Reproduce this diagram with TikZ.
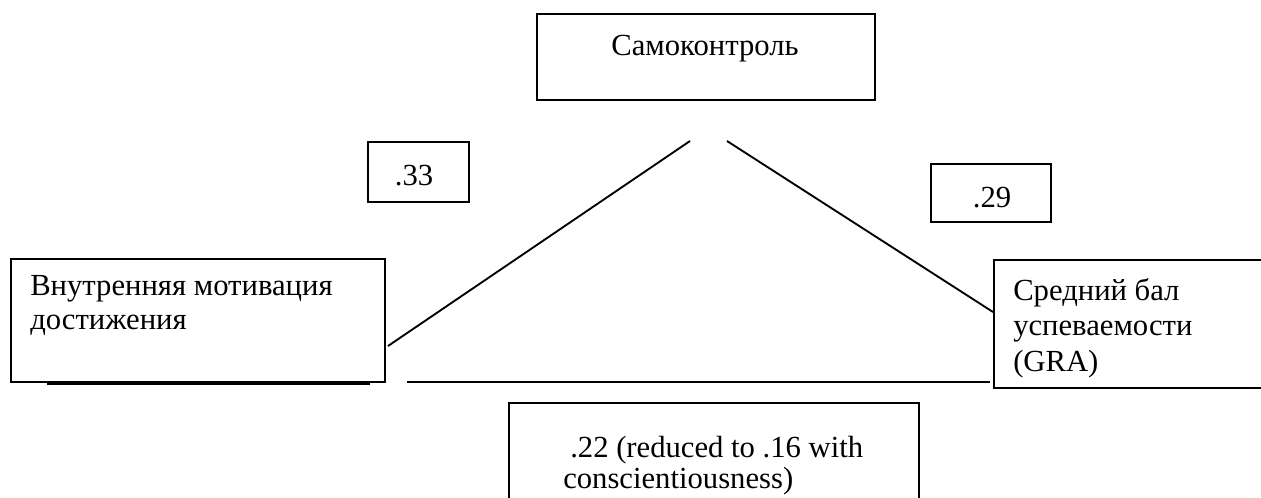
\documentclass[tikz,border=0pt]{standalone}
\usepackage{fontspec}
\setmainfont{Liberation Serif}
\begin{document}
\begin{tikzpicture}[x=0.75pt,y=-0.75pt]
\tikzset{
  boxshape/.style={draw=black, line width=1.4pt, inner sep=0pt, anchor=north west},
  txt/.style={inner sep=0pt, font=\fontsize{23}{26}\selectfont, text=black},
  conn/.style={draw=black, line width=1.4pt}
}
\useasboundingbox (0,0) rectangle (1261,497);
\clip (0,0) rectangle (1261,497);
\fill[white] (0,0) rectangle (1261,497);
% boxes
\node[boxshape, minimum width=338*0.75pt, minimum height=86*0.75pt] (top) at (536,13) {};
\node[txt, anchor=base] (toptxt) at (705,55) {Самоконтроль};

\node[boxshape, minimum width=101*0.75pt, minimum height=60*0.75pt] (b33) at (367,141) {};
\node[txt, anchor=base] (t33) at (414,185) {.33};

\node[boxshape, minimum width=120*0.75pt, minimum height=58*0.75pt] (b29) at (930,163) {};
\node[txt, anchor=base] (t29) at (992,207) {.29};

\node[boxshape, minimum width=374*0.75pt, minimum height=123*0.75pt] (left) at (10,258) {};
\node[txt, anchor=base west] (l1) at (30,295) {Внутренняя мотивация};
\node[txt, anchor=base west] (l2) at (30,329) {достижения};

\node[boxshape, minimum width=290*0.75pt, minimum height=128*0.75pt] (right) at (993,259) {};
\node[txt, anchor=base west] (r1) at (1013,300) {Средний бал};
\node[txt, anchor=base west] (r2) at (1013,335) {успеваемости};
\node[txt, anchor=base west] (r3) at (1013,371) {(GRA)};

\node[boxshape, minimum width=410*0.75pt, minimum height=120*0.75pt] (bot) at (508,402) {};
\node[txt, anchor=base west] (c1) at (570,457) {.22 (reduced to .16 with};
\node[txt, anchor=base west] (c2) at (563,488) {conscientiousness)};

% connector end points
\coordinate (apexL) at (690,141);
\coordinate (apexR) at (727,141);
\coordinate (lEnd) at (388,346);
\coordinate (rEnd) at (993,312);
\coordinate (hA) at (407,382);
\coordinate (hB) at (990,382);
\coordinate (uA) at (47,384);
\coordinate (uB) at (370,384);

\draw[conn] (lEnd) -- (apexL);
\draw[conn] (apexR) -- (rEnd);
\draw[conn] (hA) -- (hB);
\draw[conn] (uA) -- (uB);
\end{tikzpicture}
\end{document}
